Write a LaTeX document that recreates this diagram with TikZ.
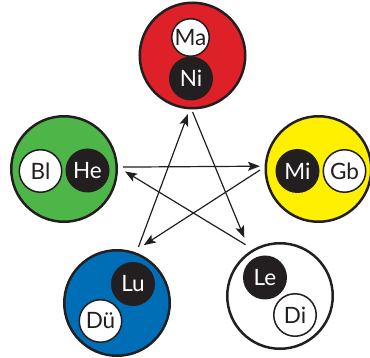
\documentclass[tikz,border=0pt]{standalone}
\usepackage{fontspec}
\setmainfont{Lato}
\usetikzlibrary{arrows.meta}
\definecolor{ink}{RGB}{35,31,32}
\definecolor{cred}{RGB}{222,32,40}
\definecolor{cgreen}{RGB}{78,182,72}
\definecolor{cyellow}{RGB}{255,240,0}
\definecolor{cblue}{RGB}{0,110,183}
\tikzset{
  outer/.style={circle, draw=ink, line width=2.5pt, minimum size=105.5pt, inner sep=0pt},
  dotfont/.style={font=\fontsize{22.5}{26}\selectfont},
  darkdot/.style={circle, fill=ink, text=white, minimum size=44pt, inner sep=0pt, dotfont},
  lightdot/.style={circle, fill=white, draw=ink, line width=1.5pt, minimum size=42.5pt, inner sep=0pt, text=ink, dotfont},
  arr/.style={line width=1.2pt, draw=ink, -{Stealth[length=12pt,width=9pt,inset=2.5pt]}}
}
\begin{document}
\begin{tikzpicture}[x=1pt,y=1pt]
\useasboundingbox (0,0) rectangle (370,-358);
% outer circles
\node[outer, fill=cred]    (red)    at (192.5,-55.5) {};
\node[outer, fill=cgreen]  (green)  at (64,-169) {};
\node[outer, fill=cyellow] (yellow) at (318.5,-169) {};
\node[outer, fill=cblue]   (blue)   at (117,-303) {};
\node[outer, fill=white]   (white)  at (280,-296) {};
% inner circles
\node[lightdot, minimum size=37.5pt] (ma) at (190.5,-37.5) {Ma};
\node[darkdot]  (ni) at (191,-78.5) {Ni};
\node[lightdot] (bl) at (40.5,-171) {Bl};
\node[darkdot]  (he) at (87.5,-170.5) {He};
\node[darkdot]  (mi) at (297.5,-171) {Mi};
\node[lightdot] (gb) at (344.5,-171) {Gb};
\node[darkdot]  (lu) at (133,-284) {Lu};
\node[lightdot] (du) at (100.5,-321) {Dü};
\node[darkdot]  (le) at (265,-277.5) {Le};
\node[lightdot] (di) at (295,-315) {Di};
% arrows
\draw[arr, shorten <=2.7pt, shorten >=14.5pt] (red.-91.6) -- (white.124.4);
\draw[arr, shorten <=6pt, shorten >=4.9pt] (blue.69.9) -- (red.-93);
\draw[arr, shorten <=5pt, shorten >=4.6pt] (green.2.1) -- (yellow.177.3);
\draw[arr, shorten <=8.7pt, shorten >=8.3pt] (white.120.7) -- (green.2.5);
\draw[arr, shorten <=5.4pt, shorten >=12pt] (yellow.178) -- (blue.72.5);
\end{tikzpicture}
\end{document}
